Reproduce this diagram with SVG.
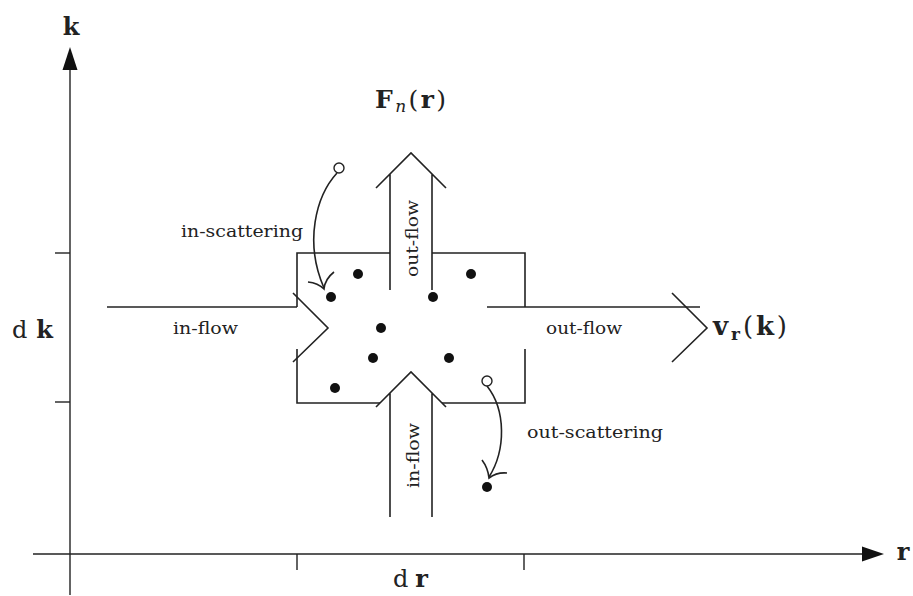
<svg xmlns="http://www.w3.org/2000/svg" width="913" height="596" viewBox="0 0 913 596">
<style>
.ln{fill:none;stroke:#222;stroke-width:1.6;stroke-linejoin:miter}
.ax{fill:none;stroke:#222;stroke-width:1.4}
.t{font-family:"DejaVu Serif","Liberation Serif",serif;font-size:17px;fill:#222}
.m{font-family:"DejaVu Serif","Liberation Serif",serif;fill:#222}
.dot{fill:#111}
.open{fill:#fff;stroke:#222;stroke-width:1.4}
</style>
<rect width="913" height="596" fill="#fff"/>
<g id="axes">
<line class="ax" x1="70" y1="595" x2="70" y2="68"/>
<polygon points="70,47 62.5,70 77.5,70" fill="#111"/>
<line class="ax" x1="33" y1="554" x2="864" y2="554"/>
<polygon points="884,554 862,546.5 862,561.5" fill="#111"/>
<line class="ax" x1="55" y1="253" x2="70" y2="253"/>
<line class="ax" x1="55" y1="402" x2="70" y2="402"/>
<line class="ax" x1="297" y1="554" x2="297" y2="570"/>
<line class="ax" x1="524" y1="554" x2="524" y2="570"/>
<text class="m" x="71" y="35" font-size="24" font-weight="bold" text-anchor="middle">k</text>
<text class="m" x="903" y="560" font-size="24" font-weight="bold" text-anchor="middle">r</text>
<text class="m" x="12" y="338" font-size="24" textLength="41" lengthAdjust="spacing">d<tspan font-weight="bold" dx="3">k</tspan></text>
<text class="m" x="393" y="587" font-size="24" textLength="35" lengthAdjust="spacing">d<tspan font-weight="bold" dx="3">r</tspan></text>
</g>
<g id="cell">
<path class="ln" d="M297,307 V253 H390 M432,253 H525 V307 M297,349 V403 H380 M442,403 H525 V349"/>
</g>
<g id="connectors">
<path class="ln" d="M107,307 H297"/>
<path class="ln" d="M293,293 L328,328 L293,362"/>
<path class="ln" d="M487,307 H700"/>
<path class="ln" d="M672,293 L707,328 L672,362"/>
<path class="ln" d="M390,290 V174 M432,290 V174 M376,188 L411,153 L446,188"/>
<path class="ln" d="M390,517 V393 M432,517 V393 M376,407 L411,372 L446,407"/>
<path class="ln" d="M337,173 C316,196 304,242 324,288"/>
<path class="ln" d="M308,282 Q318,283 324,289 Q325,279 334,272"/>
<path class="ln" d="M487,386 C506,410 506,450 489,477"/>
<path class="ln" d="M482,460 Q488,468 489,478 Q497,472 507,473"/>
</g>
<g id="particles">
<circle class="open" cx="339" cy="168" r="5"/>
<circle class="open" cx="487" cy="381" r="5"/>
<circle class="dot" cx="358" cy="274" r="5"/>
<circle class="dot" cx="471" cy="274" r="5"/>
<circle class="dot" cx="331" cy="297" r="5"/>
<circle class="dot" cx="433" cy="297" r="5"/>
<circle class="dot" cx="381" cy="328" r="5"/>
<circle class="dot" cx="373" cy="358" r="5"/>
<circle class="dot" cx="449" cy="358" r="5"/>
<circle class="dot" cx="335" cy="388" r="5"/>
<circle class="dot" cx="487" cy="487" r="5"/>
</g>
<g id="labels">
<text class="t" x="181" y="237" textLength="122" lengthAdjust="spacingAndGlyphs">in-scattering</text>
<text class="t" x="527" y="438" textLength="136" lengthAdjust="spacingAndGlyphs">out-scattering</text>
<text class="t" x="173" y="334" textLength="65" lengthAdjust="spacingAndGlyphs">in-flow</text>
<text class="t" x="546" y="334" textLength="76" lengthAdjust="spacingAndGlyphs">out-flow</text>
<text class="t" x="-39" y="0" textLength="77" lengthAdjust="spacingAndGlyphs" transform="translate(418,238) rotate(-90)">out-flow</text>
<text class="t" x="-33" y="0" textLength="65" lengthAdjust="spacingAndGlyphs" transform="translate(419,455) rotate(-90)">in-flow</text>
<text class="m" x="375" y="108" font-size="25" textLength="71" lengthAdjust="spacing"><tspan font-weight="bold">F</tspan><tspan font-style="italic" font-size="17" dy="4">n</tspan><tspan dy="-4">(</tspan><tspan font-weight="bold">r</tspan>)</text>
<text class="m" x="713" y="335" font-size="26" textLength="74" lengthAdjust="spacing"><tspan font-weight="bold">v</tspan><tspan font-weight="bold" font-size="17" dy="5">r</tspan><tspan dy="-5">(</tspan><tspan font-weight="bold">k</tspan>)</text>
</g>
</svg>
